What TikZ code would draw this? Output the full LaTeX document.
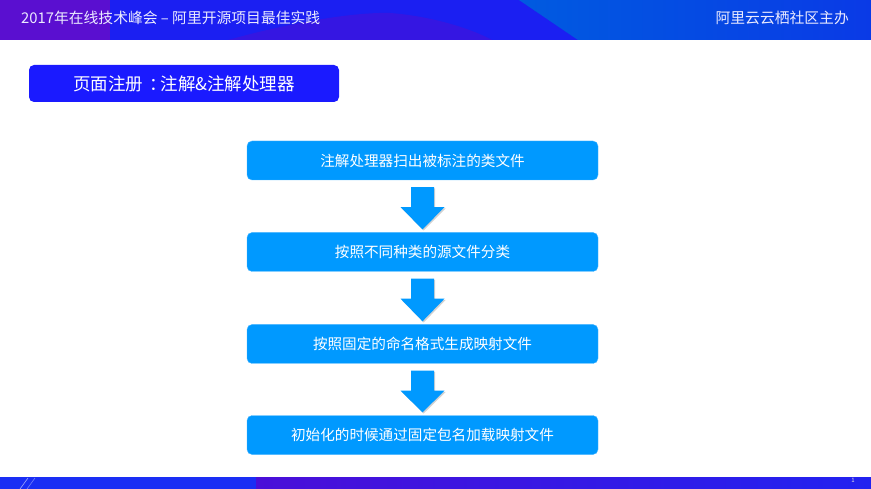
\documentclass[tikz,border=0pt]{standalone}
\usepackage{fontspec}
\setmainfont{Noto Sans CJK SC}
\usetikzlibrary{calc,shadows}
\definecolor{boxblue}{HTML}{0099FF}
\definecolor{titleblue}{HTML}{1A1AFF}
\definecolor{hdrbase}{HTML}{1B1FF2}
\definecolor{hdrpurple}{HTML}{5A0FD0}
\definecolor{hdrhump}{HTML}{3516E2}
\definecolor{hdrright}{HTML}{005BE0}
\definecolor{hdrfar}{HTML}{0A3AE6}
\definecolor{ftrblue}{HTML}{1A2EF4}
\definecolor{ftrpurple}{HTML}{4A0FD8}
\definecolor{ftrright}{HTML}{2222F0}
\tikzset{
  stepbox/.style={rectangle, rounded corners=5pt, fill=boxblue, draw=boxblue!70!white, line width=0.4pt,
    minimum width=351pt, minimum height=39pt, text=white, font=\fontsize{14.6}{17}\selectfont, inner sep=0pt},
  titlebox/.style={rectangle, rounded corners=5pt, fill=titleblue, minimum width=310pt, minimum height=37pt,
    text=white, font=\fontsize{17.5}{20}\selectfont, inner sep=0pt},
  hdrtext/.style={text=white!92!blue, font=\fontsize{14.8}{17}\selectfont, inner sep=0pt},
  blockarrow/.style={fill=boxblue, draw=none, drop shadow={opacity=0.35, shadow xshift=1.2pt, shadow yshift=-1.2pt}}
}
\begin{document}
\begin{tikzpicture}[x=1pt,y=-1pt]
\useasboundingbox (0,0) rectangle (871,489);
\fill[white] (0,0) rectangle (871,489);
% header
\fill[hdrbase] (0,0) rectangle (871,40);
\fill[hdrpurple] (0,0) rectangle (110,40);
\fill[hdrhump] (228,40) .. controls (300,20) and (360,12) .. (390,13) .. controls (430,16) and (470,28) .. (492,40) -- cycle;
\shade[left color=hdrright, right color=hdrfar] (519,0) -- (871,0) -- (871,40) -- (578,40) -- cycle;
\node[hdrtext, anchor=west] (htl) at (21,18) {2017年在线技术峰会 – 阿里开源项目最佳实践};
\node[hdrtext, anchor=east] (htr) at (849,18) {阿里云云栖社区主办};
% footer
\fill[ftrblue] (0,477) rectangle (256,489);
\shade[left color=ftrpurple, right color=ftrright] (256,477) rectangle (871,489);
\draw[white!60!ftrblue, line width=0.6pt] (20,489) -- (28,478);
\draw[white!40!ftrblue, line width=0.6pt] (27,489) -- (35,478);
\node[text=white!75!gray, font=\fontsize{6}{7}\selectfont, inner sep=0pt] (pg) at (853,480) {1};
% title
\node[titlebox] (title) at (184,83.5) {页面注册\hspace{0.35em}：\hspace{-0.35em}注解\&注解处理器};
% steps
\node[stepbox] (b1) at (422.5,160.5) {注解处理器扫出被标注的类文件};
\node[stepbox] (b2) at (422.5,252) {按照不同种类的源文件分类};
\node[stepbox] (b3) at (422.5,344) {按照固定的命名格式生成映射文件};
\node[stepbox] (b4) at (422.5,435) {初始化的时候通过固定包名加载映射文件};
% block arrows
\foreach \a/\b in {b1/b2, b2/b3, b3/b4}{
  \path[blockarrow]
    ([shift={(-11.5,7)}]\a.south) -- ([shift={(11.5,7)}]\a.south)
    -- ([shift={(11.5,27)}]\a.south) -- ([shift={(22,27)}]\a.south)
    -- ([shift={(0,-3)}]\b.north)
    -- ([shift={(-22,27)}]\a.south) -- ([shift={(-11.5,27)}]\a.south) -- cycle;
}
\end{tikzpicture}
\end{document}
